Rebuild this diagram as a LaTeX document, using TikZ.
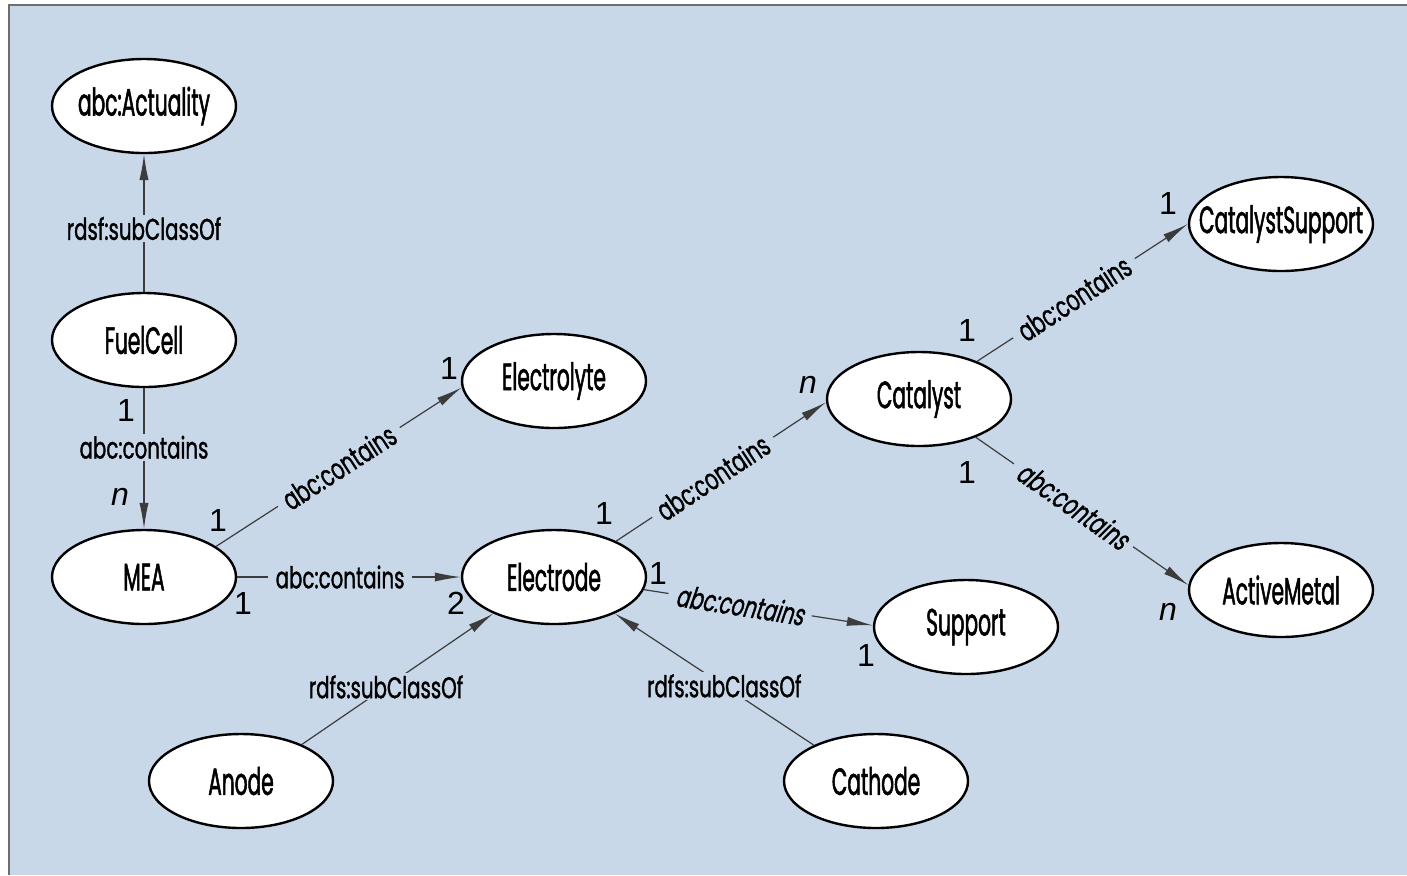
\documentclass[tikz,border=0pt]{standalone}
\usepackage{fontspec}
\setmainfont{Poppins}
\newfontfamily\nodefont{Poppins}[FakeStretch=0.53,FakeBold=1.3]
\newfontfamily\lblfont{Poppins}[FakeStretch=0.66,FakeBold=1.1]
\newfontfamily\lblslant{Poppins}[FakeStretch=0.66,FakeBold=1.1,FakeSlant=0.18]
\newfontfamily\numfont{Liberation Sans}
\usetikzlibrary{shapes.geometric,arrows.meta}
\definecolor{bgblue}{RGB}{200,216,233}
\definecolor{framegray}{RGB}{110,110,110}
\definecolor{linegray}{RGB}{60,60,60}
\newcommand{\nt}[1]{\makebox[0pt][c]{#1}}
\tikzset{
  cls/.style={ellipse,draw=black,line width=1.2pt,fill=white,minimum width=92pt,minimum height=47pt,inner sep=0pt,font=\nodefont\fontsize{19}{22}\selectfont},
  conn/.style={draw=linegray,line width=0.6pt,-{Latex[length=13pt,width=4.6pt]}},
  lbl/.style={fill=bgblue,inner xsep=4pt,inner ysep=1pt,font=\lblfont\fontsize{15}{18}\selectfont,text=black},
  lbli/.style={lbl,font=\lblslant\fontsize{15}{18}\selectfont},
  mult/.style={inner sep=0pt,font=\numfont\fontsize{16}{18}\selectfont},
  multi/.style={mult,font=\numfont\itshape\fontsize{16}{18}\selectfont}
}
\begin{document}
\begin{tikzpicture}[x=0.5pt,y=-0.5pt]
\useasboundingbox (0,0) rectangle (1407,875);
\fill[white] (0,0) rectangle (1407,875);
\fill[bgblue] (9,5) rectangle (1407,875);
\draw[framegray,line width=1pt] (9,875) -- (9,5) -- (1407,5);

\node[cls] (act) at (144,106) {\nt{abc:Actuality}};
\node[cls] (fuel) at (144,340) {\nt{FuelCell}};
\node[cls] (mea) at (144,577) {\nt{MEA}};
\node[cls] (ely) at (554,381) {\nt{Electrolyte}};
\node[cls] (eld) at (554,577) {\nt{Electrode}};
\node[cls] (cat) at (919,399) {\nt{Catalyst}};
\node[cls] (cs) at (1281,224) {\nt{CatalystSupport}};
\node[cls] (am) at (1281,590) {\nt{ActiveMetal}};
\node[cls] (sup) at (966,627) {\nt{Support}};
\node[cls] (an) at (241,781) {\nt{Anode}};
\node[cls] (ca) at (876,781) {\nt{Cathode}};

\draw[conn] (fuel.north) -- node[lbl,pos=0.46] {rdsf:subClassOf} (act.south);
\draw[conn] (fuel.south) -- node[lbl,pos=0.42] {abc:contains} (mea.north);
\draw[conn] (mea.23) -- node[lbl,sloped,pos=0.5] {abc:contains} (ely.184);
\draw[conn] (mea.east) -- node[lbl,pos=0.46] {abc:contains} (eld.west);
\draw[conn] (eld.30) -- node[lbl,sloped,pos=0.46] {abc:contains} (cat.182);
\draw[conn] (eld.-8) -- node[lbli,sloped,pos=0.42] {abc:contains} (sup.179);
\draw[conn] (cat.33) -- node[lbl,sloped,pos=0.46] {abc:contains} (cs.west);
\draw[conn] (cat.-34) -- node[lbli,sloped,pos=0.46] {abc:contains} (am.177);
\draw[conn] (an.31) -- node[lbl,pos=0.44] {rdfs:subClassOf} (eld.211);
\draw[conn] (ca.150) -- node[lbl,pos=0.45] {rdfs:subClassOf} (eld.-31);

\node[mult] (m1) at (126,410) {1};
\node[multi] (m2) at (120,497) {n};
\node[mult] (m3) at (218,520) {1};
\node[mult] (m4) at (449,368) {1};
\node[mult] (m5) at (243,603) {1};
\node[mult] (m6) at (456,603) {2};
\node[mult] (m7) at (604,513) {1};
\node[multi] (m8) at (808,385) {n};
\node[mult] (m9) at (658,573) {1};
\node[mult] (m10) at (866,655) {1};
\node[mult] (m11) at (967,330) {1};
\node[mult] (m12) at (1168,203) {1};
\node[mult] (m13) at (967,472) {1};
\node[multi] (m14) at (1168,612) {n};
\end{tikzpicture}
\end{document}
